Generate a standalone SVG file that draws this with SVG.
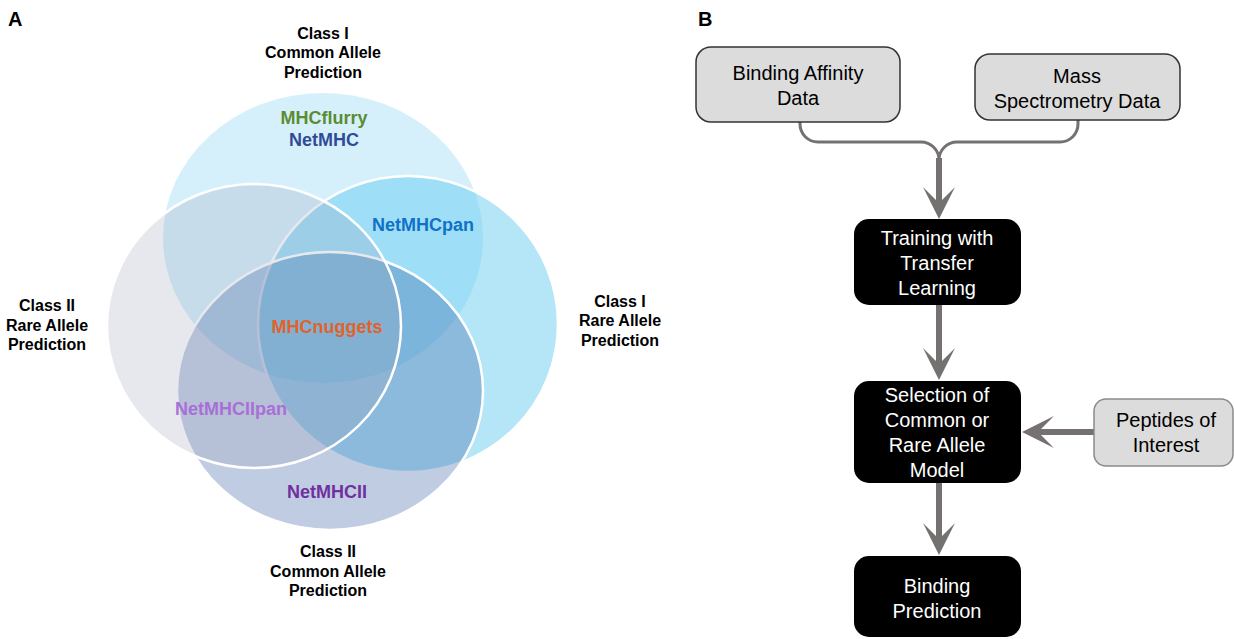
<svg xmlns="http://www.w3.org/2000/svg" width="1234" height="639" viewBox="0 0 1234 639">
<defs>
<style>
.panel{font-family:"Liberation Sans",Arial,sans-serif;font-weight:bold;font-size:20px;fill:#000}
.lab{font-family:"Liberation Sans",Arial,sans-serif;font-weight:bold;font-size:16px;fill:#000;text-anchor:middle}
.tool{font-family:"Liberation Sans",Arial,sans-serif;font-weight:bold;font-size:18px;text-anchor:middle}
.ring{stroke:#fff;stroke-width:2.5}
.light{fill:#dcdcdc;stroke:#333;stroke-width:1.5}
.dark{fill:#000}
.t{font-family:"Liberation Sans",Arial,sans-serif;font-size:20px;text-anchor:middle}
.tb{fill:#000}
.tw{fill:#fff}
.thin{fill:none;stroke:#767171;stroke-width:3}
.thick{fill:none;stroke:#767171;stroke-width:6}
</style>
<marker id="arr" markerUnits="userSpaceOnUse" viewBox="-15 -18 36 36" markerWidth="36" markerHeight="36" refX="0" refY="0" orient="auto">
<path d="M0,-3 L-13,-16 L19,0 L-13,16 L0,3 Z" fill="#767171"/>
</marker>
</defs>

<text class="panel" x="8" y="26">A</text>
<text class="panel" x="698" y="26">B</text>

<g id="venn">
<ellipse id="class1-common" cx="323" cy="238" rx="160" ry="145" fill="#d6f0fb"/>
<ellipse id="class1-rare" class="ring" cx="408" cy="324" rx="150" ry="148" fill="#5bc8f0" fill-opacity="0.45"/>
<ellipse id="class2-common" class="ring" cx="330" cy="391" rx="153" ry="139" fill="#2e579a" fill-opacity="0.3"/>
<ellipse id="class2-rare" class="ring" cx="254" cy="326" rx="147" ry="142" fill="#99a1b9" fill-opacity="0.244"/>
</g>

<g id="venn-labels">
<text class="lab" x="323" y="39">Class I</text>
<text class="lab" x="323" y="58">Common Allele</text>
<text class="lab" x="323" y="78">Prediction</text>
<text class="lab" x="47" y="311">Class II</text>
<text class="lab" x="47" y="331">Rare Allele</text>
<text class="lab" x="47" y="350">Prediction</text>
<text class="lab" x="620" y="307">Class I</text>
<text class="lab" x="620" y="326">Rare Allele</text>
<text class="lab" x="620" y="346">Prediction</text>
<text class="lab" x="328" y="557">Class II</text>
<text class="lab" x="328" y="577">Common Allele</text>
<text class="lab" x="328" y="596">Prediction</text>
<text class="tool" x="324" y="124" fill="#5b8c32">MHCflurry</text>
<text class="tool" x="324" y="146" fill="#2f4c96">NetMHC</text>
<text class="tool" x="423" y="231" fill="#1071c8">NetMHCpan</text>
<text class="tool" x="327" y="333" fill="#e0632a">MHCnuggets</text>
<text class="tool" x="231" y="415" fill="#a86fd6">NetMHCIIpan</text>
<text class="tool" x="327" y="498" fill="#7030a0">NetMHCII</text>
</g>

<g id="connectors">
<path class="thin" d="M800,122 V124 A18,18 0 0 0 818,142 H921 A18,18 0 0 1 939,160"/>
<path class="thin" d="M1078,120 V124 A18,18 0 0 1 1060,142 H957 A18,18 0 0 0 939,160"/>
<path class="thick" d="M939,158 V200" marker-end="url(#arr)"/>
<path class="thick" d="M939,305 V361" marker-end="url(#arr)"/>
<path class="thick" d="M939,483 V536" marker-end="url(#arr)"/>
<path class="thick" d="M1094,432 H1041" marker-end="url(#arr)"/>
</g>

<g id="binding-affinity">
<rect class="light" x="696" y="47" width="204" height="75" rx="15"/>
<text class="t tb" x="798" y="80">Binding Affinity</text>
<text class="t tb" x="798" y="105">Data</text>
</g>
<g id="mass-spec">
<rect class="light" x="975" y="54" width="205" height="66" rx="15"/>
<text class="t tb" x="1077" y="83">Mass</text>
<text class="t tb" x="1077" y="108">Spectrometry Data</text>
</g>
<g id="training">
<rect class="dark" x="854" y="219" width="167" height="86" rx="15"/>
<text class="t tw" x="937" y="245">Training with</text>
<text class="t tw" x="937" y="270">Transfer</text>
<text class="t tw" x="937" y="295">Learning</text>
</g>
<g id="selection">
<rect class="dark" x="854" y="381" width="167" height="102" rx="15"/>
<text class="t tw" x="937" y="402">Selection of</text>
<text class="t tw" x="937" y="427">Common or</text>
<text class="t tw" x="937" y="452">Rare Allele</text>
<text class="t tw" x="937" y="477">Model</text>
</g>
<g id="peptides">
<rect class="light" x="1094" y="399" width="139" height="67" rx="12" style="stroke:#8a8a8a"/>
<text class="t tb" x="1166" y="427">Peptides of</text>
<text class="t tb" x="1166" y="452">Interest</text>
</g>
<g id="binding-prediction">
<rect class="dark" x="854" y="556" width="167" height="81" rx="15"/>
<text class="t tw" x="937" y="593">Binding</text>
<text class="t tw" x="937" y="618">Prediction</text>
</g>
</svg>
